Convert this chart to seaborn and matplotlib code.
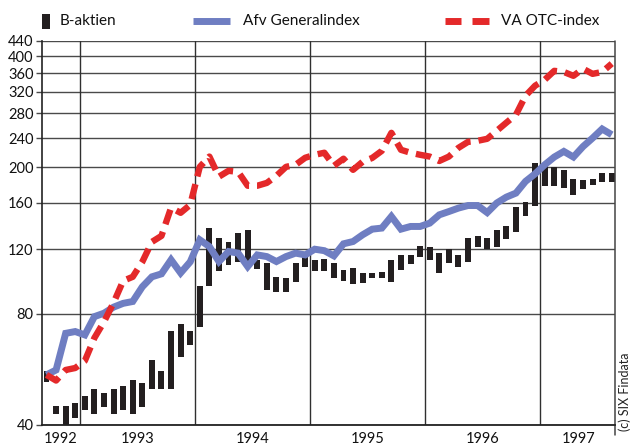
import numpy as np
import pandas as pd
import matplotlib
matplotlib.use("Agg")
import matplotlib.pyplot as plt
import seaborn as sns
from matplotlib.lines import Line2D
from matplotlib.patches import Rectangle

# ---- data (monthly, Sep 1992 .. Aug 1997) ----
months = list(range(60))
b_high = [56.2, 45.0, 45.0, 46.0, 48.0, 50.1, 49.0, 50.1, 51.0, 53.0,
          52.1, 60.0, 56.0, 72.1, 75.2, 72.1, 95.4, 136.8, 128.5, 125.3,
          132.6, 135.3, 112.2, 110.3, 101.1, 100.1, 110.3, 114.5, 112.2, 112.5,
          110.3, 105.4, 106.5, 103.6, 103.3, 103.9, 112.2, 115.7, 115.7, 122.7,
          121.4, 117.0, 120.2, 115.5, 128.5, 130.3, 128.5, 135.3, 138.8, 156.5,
          160.9, 205.2, 201.0, 200.2, 196.0, 185.8, 184.2, 185.8, 192.9, 192.9]
b_low = [52.4, 42.8, 39.5, 41.9, 43.9, 42.8, 44.8, 42.8, 43.9, 42.8,
         44.8, 50.0, 50.0, 50.0, 61.1, 66.0, 73.9, 95.0, 104.9, 108.3,
         111.0, 106.5, 106.0, 93.0, 92.0, 92.0, 98.0, 107.2, 104.7, 104.9,
         100.1, 98.6, 96.4, 97.0, 100.1, 100.1, 98.0, 105.4, 109.2, 114.1,
         112.2, 103.3, 110.3, 107.6, 111.0, 121.9, 120.2, 121.9, 127.7, 133.9,
         147.1, 157.5, 178.2, 178.2, 175.6, 167.7, 174.9, 178.5, 182.3, 182.3]
gen_index = [54.7, 56.4, 70.9, 71.7, 70.2, 78.7, 80.4, 83.5, 85.5, 86.5,
             94.8, 100.9, 102.8, 112.2, 103.4, 110.8, 127.1, 121.9, 111.0, 118.2,
             117.0, 107.6, 115.7, 114.5, 111.0, 114.5, 117.0, 115.7, 119.9, 118.8,
             115.0, 124.0, 125.8, 131.2, 135.9, 136.8, 147.1, 135.9, 138.2, 138.2,
             141.1, 148.6, 151.7, 155.0, 157.5, 157.5, 150.7, 160.0, 166.0, 170.2,
             183.1, 192.0, 203.1, 213.2, 220.8, 213.2, 227.6, 240.0, 254.0, 245.1]
otc_index = [54.7, 52.8, 56.4, 57.1, 59.7, 68.9, 76.2, 85.8, 98.4, 100.9,
             110.8, 125.5, 130.3, 155.3, 150.5, 158.2, 200.5, 213.8, 188.6, 195.6,
             194.4, 178.2, 178.2, 181.4, 189.6, 200.5, 203.1, 212.2, 216.2, 219.0,
             201.8, 211.0, 196.8, 207.0, 212.0, 221.6, 248.0, 223.0, 219.0, 216.2,
             213.8, 208.0, 213.8, 225.8, 234.4, 235.9, 238.9, 251.2, 264.2, 277.6,
             312.6, 332.8, 345.4, 365.2, 362.6, 354.0, 370.0, 358.4, 362.6, 382.0]
year_labels = ["1992", "1993", "1994", "1995", "1996", "1997"]
year_label_pos = [1.5, 9.5, 21.5, 33.5, 45.5, 55.5]
year_bounds = [3.5, 15.5, 27.5, 39.5, 51.5]
y_ticks = [40, 80, 120, 160, 200, 240, 280, 320, 360, 400, 440]

BLUE = "#6f7ec2"
RED = "#e4292a"
BLACK = "#231f20"
FONT = ["Lato", "DejaVu Sans"]

sns.set_theme(style="white")
plt.rcParams['font.family'] = FONT

W, H = 634, 447
fig = plt.figure(figsize=(W / 100, H / 100), dpi=100)
L, R, T, B = 42, 615, 41, 425
ax = fig.add_axes([L / W, (H - B) / H, (R - L) / W, (B - T) / H])

df = pd.DataFrame({"month": months, "high": b_high, "low": b_low,
                   "gen": gen_index, "otc": otc_index})

ax.set_yscale("log")
ax.set_ylim(40, 440)
ax.set_xlim(-0.47, 59.34)

# grid
for yt in y_ticks:
    ax.axhline(yt, color="#4a4a4a", lw=1.0, zorder=0)
for xb in year_bounds:
    ax.axvline(xb, color="#303030", lw=1.0, zorder=0)

# bars (low-high)
ax.bar(df["month"], df["high"] - df["low"], bottom=df["low"], width=0.62,
       color=BLACK, zorder=2, linewidth=0)

# lines
sns.lineplot(data=df, x="month", y="gen", ax=ax, color=BLUE, linewidth=5.0,
             zorder=3, solid_joinstyle="miter", solid_capstyle="butt")
sns.lineplot(data=df, x="month", y="otc", ax=ax, color=RED, linewidth=4.6,
             zorder=4, linestyle=(0, (2.4, 1.25)), dash_capstyle="butt")

ax.set_xlabel("")
ax.set_ylabel("")
ax.set_yticks(y_ticks)
ax.set_yticklabels([str(v) for v in y_ticks])
ax.yaxis.set_minor_locator(matplotlib.ticker.NullLocator())
ax.set_xticks(year_label_pos)
ax.set_xticklabels(year_labels)
ax.tick_params(axis="y", which="major", length=4, width=1.0, color="#4a4a4a",
               pad=2, labelsize=10.5, labelcolor="#111111", left=True)
ax.tick_params(axis="x", length=0, pad=5, labelsize=10.5, labelcolor="#111111")

for s in ["top"]:
    ax.spines[s].set_visible(False)
ax.spines["left"].set_color("#222222")
ax.spines["left"].set_linewidth(1.2)
ax.spines["bottom"].set_color("#222222")
ax.spines["bottom"].set_linewidth(1.3)
ax.spines["right"].set_visible(False)
ax.add_line(Line2D([1, 1], [-0.027, 1], transform=ax.transAxes,
                   color="#444444", lw=1.1, clip_on=False))

# legend (manual, figure pixel coords)
def fx(px):
    return px / W

def fy(py):
    return (H - py) / H

fig.add_artist(Rectangle((fx(42), fy(29)), 8 / W, 15 / H,
                         transform=fig.transFigure, color=BLACK, lw=0))
fig.text(fx(60), fy(21), "B-aktien", fontsize=11, va="center", ha="left",
         color="#111111")
fig.add_artist(Line2D([fx(193), fx(230)], [fy(21), fy(21)],
                      transform=fig.transFigure, color=BLUE, lw=5.0,
                      solid_capstyle="butt"))
fig.text(fx(243), fy(21), "Afv Generalindex", fontsize=11, va="center",
         ha="left", color="#111111")
for a, b in [(445, 461), (472, 489)]:
    fig.add_artist(Line2D([fx(a), fx(b)], [fy(21), fy(21)],
                          transform=fig.transFigure, color=RED, lw=5.0,
                          solid_capstyle="butt"))
fig.text(fx(501), fy(21), "VA OTC-index", fontsize=11, va="center",
         ha="left", color="#111111")

fig.text(fx(625), fy(392), "(c) SIX Findata", fontsize=9, rotation=90,
         va="center", ha="center", color="#222222")

fig.savefig("out.png", dpi=100)
